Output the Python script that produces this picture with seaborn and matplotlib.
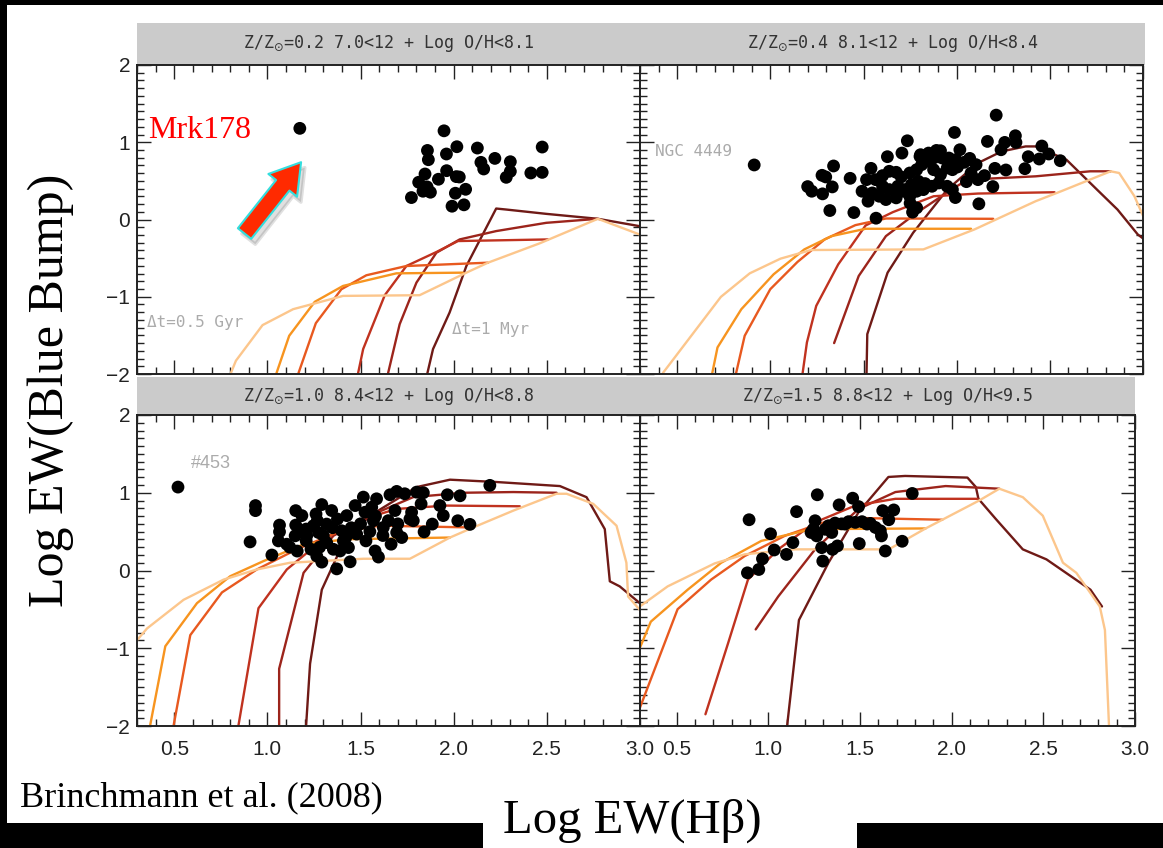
import matplotlib
matplotlib.use("Agg")
import matplotlib.pyplot as plt
from matplotlib.patches import Rectangle, FancyArrowPatch
from matplotlib.ticker import MultipleLocator, FormatStrFormatter
import seaborn as sns

# ---------------------------------------------------------------- data
TITLES = [
    r"Z/Z$_{\odot}$=0.2 7.0<12 + Log O/H<8.1",
    r"Z/Z$_{\odot}$=0.4 8.1<12 + Log O/H<8.4",
    r"Z/Z$_{\odot}$=1.0 8.4<12 + Log O/H<8.8",
    r"Z/Z$_{\odot}$=1.5 8.8<12 + Log O/H<9.5",
]

# galaxies, Z/Zsun = 0.2 (first point: Mrk178)
z02_x = [1.174, 1.948, 1.859, 1.864, 1.961, 2.017, 2.127, 2.146, 2.161, 2.221, 2.304,
         2.304, 2.282, 2.414, 2.475, 2.475, 1.846, 1.812, 1.857, 1.835, 1.875, 1.773,
         1.918, 1.962, 2.014, 2.030, 2.064, 2.009, 1.991, 2.055]
z02_y = [1.180, 1.148, 0.894, 0.774, 0.848, 0.942, 0.925, 0.740, 0.654, 0.791, 0.748,
         0.623, 0.546, 0.602, 0.610, 0.938, 0.589, 0.482, 0.422, 0.366, 0.353, 0.284,
         0.521, 0.632, 0.555, 0.550, 0.391, 0.340, 0.172, 0.190]

# galaxies, Z/Zsun = 0.4 (first point: NGC 4449)
z04_x = [0.913, 2.212, 1.988, 1.735, 2.165, 2.258, 2.315, 2.318, 2.457, 2.384, 2.443,
         2.494, 2.556, 2.366, 2.264, 2.205, 2.149, 2.194, 2.119, 1.993, 1.913, 1.891,
         2.017, 1.706, 1.628, 1.428, 1.339, 1.277, 1.297, 1.200, 1.222, 1.332, 1.280,
         1.319, 1.448, 1.567, 1.492, 1.524, 1.750, 1.785, 1.763, 2.052, 2.070, 1.806,
         2.238, 1.540, 1.516, 1.565, 1.602, 1.638, 1.675, 1.702, 1.748, 1.785, 1.812,
         1.840, 1.876, 1.913, 1.949, 1.977, 2.004, 2.040, 2.068, 2.104, 1.602, 1.638,
         1.684, 1.721, 1.757, 1.794, 1.830, 1.867, 1.904, 1.949, 1.977, 1.547, 1.584,
         1.620, 1.675, 1.712, 1.748, 1.785, 1.821, 1.803, 1.849, 1.876, 1.922, 1.958,
         1.995, 2.077, 2.114]
z04_y = [0.706, 1.351, 1.127, 1.019, 1.011, 0.998, 1.084, 0.998, 0.951, 0.813, 0.783,
         0.848, 0.761, 0.658, 0.641, 0.662, 0.568, 0.426, 0.203, 0.284, 0.890, 0.894,
         0.903, 0.860, 0.813, 0.533, 0.693, 0.572, 0.551, 0.426, 0.366, 0.422, 0.332,
         0.116, 0.090, 0.017, 0.366, 0.237, 0.211, 0.151, 0.095, 0.490, 0.791, 0.839,
         0.903, 0.662, 0.516, 0.516, 0.568, 0.624, 0.611, 0.551, 0.602, 0.645, 0.710,
         0.753, 0.645, 0.581, 0.667, 0.645, 0.680, 0.740, 0.774, 0.710, 0.430, 0.387,
         0.430, 0.387, 0.452, 0.495, 0.465, 0.430, 0.473, 0.430, 0.387, 0.344, 0.301,
         0.258, 0.280, 0.366, 0.301, 0.366, 0.387, 0.817, 0.860, 0.796, 0.796, 0.796,
         0.774, 0.602, 0.516]

# galaxies, Z/Zsun = 1.0 (first point: #453)
z10_x = [0.520, 0.936, 0.936, 0.907, 1.024, 2.194, 2.087, 2.034, 1.966, 1.944, 1.926,
         1.885, 1.841, 1.825, 1.837, 1.801, 1.737, 1.694, 1.658, 1.515, 1.471, 1.372,
         1.444, 1.292, 1.292, 1.152, 1.185, 1.596, 1.578, 1.664, 1.721, 1.783, 1.065,
         1.065, 1.059, 1.104, 1.152, 1.149, 1.175, 1.208, 1.208, 1.234, 1.261, 1.268,
         1.274, 1.318, 1.318, 1.354, 1.376, 1.399, 1.426, 1.408, 1.435, 1.479, 1.524,
         1.529, 1.560, 1.569, 1.622, 1.649, 1.685, 1.694, 1.765, 1.774, 2.022, 1.345,
         1.247, 1.586, 1.211, 1.390, 1.265, 1.120, 1.300, 1.450, 1.500, 1.350, 1.420,
         1.550, 1.620, 1.700, 1.580, 1.280, 1.160]
z10_y = [1.073, 0.835, 0.770, 0.368, 0.199, 1.095, 0.593, 0.961, 0.974, 0.706, 0.835,
         0.597, 0.497, 0.857, 1.000, 1.008, 0.987, 1.017, 0.974, 0.944, 0.835, 0.021,
         0.112, 0.108, 0.848, 0.770, 0.706, 0.173, 0.251, 0.338, 0.424, 0.640, 0.584,
         0.498, 0.381, 0.338, 0.584, 0.446, 0.511, 0.533, 0.381, 0.273, 0.727, 0.641,
         0.489, 0.597, 0.359, 0.273, 0.662, 0.511, 0.706, 0.381, 0.295, 0.468, 0.749,
         0.381, 0.814, 0.641, 0.554, 0.641, 0.771, 0.489, 0.662, 0.749, 0.640, 0.771,
         0.576, 0.922, 0.446, 0.251, 0.186, 0.300, 0.450, 0.550, 0.600, 0.550, 0.420,
         0.500, 0.450, 0.600, 0.700, 0.300, 0.250]

# galaxies, Z/Zsun = 1.5
z15_x = [0.895, 0.886, 0.948, 0.968, 1.012, 1.032, 1.099, 1.134, 1.154, 1.267, 1.255,
         1.233, 1.264, 1.246, 1.291, 1.297, 1.350, 1.377, 1.328, 1.364, 1.386, 1.419,
         1.460, 1.474, 1.492, 1.496, 1.511, 1.538, 1.584, 1.611, 1.617, 1.624, 1.638,
         1.657, 1.684, 1.730, 1.785, 1.346, 1.438, 1.556, 1.310, 1.400]
z15_y = [0.653, -0.030, 0.013, 0.151, 0.472, 0.264, 0.207, 0.359, 0.757, 0.974, 0.640,
         0.489, 0.445, 0.532, 0.294, 0.121, 0.272, 0.316, 0.575, 0.610, 0.844, 0.597,
         0.930, 0.619, 0.822, 0.346, 0.628, 0.597, 0.554, 0.511, 0.445, 0.770, 0.251,
         0.653, 0.779, 0.376, 0.991, 0.489, 0.628, 0.606, 0.530, 0.600]

# model tracks (burst duration from 1 Myr to 0.5 Gyr), one (x, y) pair each
TRACK_COLORS = ["#6f1a16", "#9c241b", "#c0321f", "#e8591f", "#f7941f", "#fcc68c"]

z02_tracks = [
    ([1.859, 1.889, 1.978, 2.068, 2.228, 2.282, 2.497, 2.774, 2.997],
     [-1.987, -1.677, -1.204, -0.602, 0.142, 0.129, 0.073, 0.009, -0.086]),
    ([1.648, 1.710, 1.800, 1.907, 2.032, 2.228, 2.497, 2.774],
     [-1.987, -1.355, -0.817, -0.430, -0.258, -0.150, -0.043, 0.009]),
    ([1.487, 1.514, 1.630, 1.746, 1.907, 2.023, 2.506],
     [-1.987, -1.677, -0.980, -0.602, -0.421, -0.279, -0.258]),
    ([1.167, 1.260, 1.397, 1.531, 1.746, 2.184],
     [-1.987, -1.342, -0.903, -0.722, -0.602, -0.559]),
    ([1.049, 1.117, 1.254, 1.406, 1.692, 2.050],
     [-1.987, -1.505, -1.066, -0.860, -0.697, -0.688]),
    ([0.804, 0.831, 0.974, 1.138, 1.406, 1.817, 2.068, 2.184, 2.461, 2.774, 2.997],
     [-1.987, -1.828, -1.367, -1.161, -0.989, -0.980, -0.688, -0.559, -0.309, 0.009, -0.193]),
]

z04_tracks = [
    ([1.516, 1.520, 1.629, 1.766, 1.949, 2.114, 2.242, 2.370, 2.424, 2.589, 2.753, 2.863, 2.972, 3.055],
     [-1.987, -1.484, -0.688, -0.172, 0.387, 0.731, 0.882, 0.946, 0.946, 0.774, 0.387, 0.129, -0.194, -0.344]),
    ([1.342, 1.474, 1.620, 1.785, 1.986, 2.059, 2.424, 2.717, 2.826],
     [-1.600, -0.731, -0.215, 0.086, 0.409, 0.516, 0.559, 0.624, 0.624]),
    ([1.173, 1.196, 1.246, 1.364, 1.511, 1.657, 1.876, 2.114, 2.525],
     [-1.987, -1.591, -1.118, -0.581, -0.077, 0.095, 0.301, 0.336, 0.353]),
    ([0.816, 0.862, 0.999, 1.145, 1.291, 1.456, 1.620, 2.196],
     [-1.987, -1.505, -0.903, -0.550, -0.258, -0.073, 0.013, 0.009]),
    ([0.688, 0.716, 0.844, 1.017, 1.182, 1.328, 1.511, 2.077],
     [-1.987, -1.656, -1.161, -0.710, -0.387, -0.215, -0.120, -0.120]),
    ([0.423, 0.734, 0.889, 1.054, 1.218, 1.821, 2.095, 2.424, 2.561, 2.826, 2.872, 2.954, 3.009],
     [-1.987, -1.002, -0.697, -0.507, -0.395, -0.387, -0.129, 0.237, 0.366, 0.624, 0.602, 0.301, 0.000]),
]

z10_tracks = [
    ([1.208, 1.229, 1.292, 1.408, 1.551, 1.801, 1.980, 2.230, 2.570, 2.713, 2.811, 2.838, 2.891, 2.999],
     [-1.987, -1.199, -0.247, 0.359, 0.706, 1.073, 1.168, 1.138, 1.086, 0.943, 0.532, -0.139, -0.204, -0.420]),
    ([1.063, 1.063, 1.194, 1.354, 1.551, 1.783, 2.052, 2.320, 2.552],
     [-1.987, -1.264, -0.030, 0.446, 0.706, 0.944, 1.000, 1.009, 1.000]),
    ([0.845, 0.952, 1.104, 1.301, 1.515, 1.694, 1.962, 2.355],
     [-1.987, -0.485, 0.013, 0.402, 0.662, 0.792, 0.835, 0.826]),
    ([0.497, 0.586, 0.756, 0.943, 1.158, 1.372, 1.605, 2.087],
     [-1.987, -0.831, -0.282, 0.013, 0.272, 0.489, 0.576, 0.554]),
    ([0.371, 0.452, 0.622, 0.800, 0.979, 1.194, 1.426, 1.980],
     [-1.987, -0.974, -0.420, -0.074, 0.121, 0.337, 0.402, 0.424]),
    ([0.300, 0.354, 0.550, 0.765, 0.943, 1.122, 1.515, 1.765, 1.980, 2.105, 2.320, 2.552,
      2.606, 2.749, 2.874, 2.927, 2.936, 2.999],
     [-0.896, -0.745, -0.377, -0.117, 0.013, 0.100, 0.151, 0.151, 0.424, 0.554, 0.770, 0.987,
      0.987, 0.857, 0.576, 0.100, -0.334, -0.507]),
]

z15_tracks = [
    ([1.103, 1.167, 1.328, 1.492, 1.655, 1.746, 2.086, 2.132, 2.146, 2.241, 2.388, 2.517, 2.757, 2.820],
     [-1.987, -0.637, 0.100, 0.749, 1.203, 1.216, 1.195, 1.073, 0.922, 0.662, 0.272, 0.143, -0.247, -0.463]),
    ([0.931, 1.054, 1.255, 1.492, 1.693, 1.967, 2.260],
     [-0.758, -0.334, 0.272, 0.792, 1.009, 1.086, 1.052]),
    ([0.657, 0.780, 0.889, 1.054, 1.255, 1.474, 1.693, 2.141],
     [-1.849, -0.939, -0.117, 0.272, 0.619, 0.835, 0.922, 0.922]),
    ([0.286, 0.505, 0.688, 0.871, 1.090, 1.328, 1.511, 1.949],
     [-1.849, -0.498, -0.117, 0.186, 0.446, 0.640, 0.675, 0.653]),
    ([0.286, 0.359, 0.560, 0.743, 0.962, 1.237, 1.858],
     [-1.070, -0.658, -0.247, 0.100, 0.381, 0.532, 0.541]),
    ([0.286, 0.451, 0.707, 0.871, 1.145, 1.657, 1.858, 2.150, 2.260, 2.388, 2.497, 2.607,
      2.680, 2.808, 2.836, 2.858],
     [-0.485, -0.204, 0.091, 0.208, 0.272, 0.272, 0.541, 0.900, 1.052, 0.943, 0.705, 0.100,
      -0.030, -0.463, -0.766, -1.987]),
]

X_TICKS = [0.5, 1.0, 1.5, 2.0, 2.5, 3.0]
Y_TICKS = [-2, -1, 0, 1, 2]

# ---------------------------------------------------------------- layout
W, H = 1163, 848
sns.set_theme(style="ticks")
plt.rcParams["font.family"] = ["Liberation Sans", "DejaVu Sans"]
plt.rcParams["mathtext.fontset"] = "dejavusans"

fig = plt.figure(figsize=(W / 100, H / 100), dpi=100, facecolor="white")


def fbox(l, t, r, b):
    return [l / W, 1 - b / H, (r - l) / W, (b - t) / H]


def fx(px):
    return px / W


def fy(py):
    return 1 - py / H


panels = [
    # axes box, title strip box, data
    ((137, 65, 640, 374), (137, 23, 640, 65), z02_x, z02_y, z02_tracks, False, True),
    ((640, 65, 1143, 374), (640, 23, 1145, 65), z04_x, z04_y, z04_tracks, False, False),
    ((137, 415, 640, 726), (137, 377, 640, 415), z10_x, z10_y, z10_tracks, True, True),
    ((640, 415, 1135, 726), (640, 377, 1135, 415), z15_x, z15_y, z15_tracks, True, False),
]

axes = []
for i, (box, strip, gx, gy, tracks, xlab, ylab) in enumerate(panels):
    # grey title strip
    l, t, r, b = strip
    fig.add_artist(Rectangle((fx(l), fy(b)), (r - l) / W, (b - t) / H,
                             transform=fig.transFigure, facecolor="#cbcbcb",
                             edgecolor="none", zorder=0))
    fig.text(fx((l + r) / 2), fy((t + b) / 2), TITLES[i], ha="center", va="center",
             family="DejaVu Sans Mono", fontsize=12, color="#333333")

    ax = fig.add_axes(fbox(*box))
    ax.set_facecolor("white")
    for (tx, ty), c in zip(tracks, TRACK_COLORS):
        sns.lineplot(x=tx, y=ty, sort=False, estimator=None, color=c, lw=1.7,
                     ax=ax, legend=False, zorder=2)
    sns.scatterplot(x=gx, y=gy, s=85, color="black", edgecolor="none", ax=ax,
                    legend=False, zorder=3)

    ax.set_xlim(0.3, 3.0)
    ax.set_ylim(-2.0, 2.0)
    ax.set_xticks(X_TICKS)
    ax.set_yticks(Y_TICKS)
    ax.xaxis.set_minor_locator(MultipleLocator(0.1))
    ax.yaxis.set_minor_locator(MultipleLocator(0.1))
    ax.xaxis.set_major_formatter(FormatStrFormatter("%.1f"))
    ax.tick_params(which="both", direction="in", top=True, right=True,
                   bottom=True, left=True, color="#222222", width=1.0)
    ax.tick_params(which="major", length=10)
    ax.tick_params(which="minor", length=5)
    ax.tick_params(axis="x", which="major", labelsize=15, pad=10,
                   labelbottom=xlab, labelcolor="#222222")
    ax.tick_params(axis="y", which="major", labelsize=15, pad=5,
                   labelleft=ylab, labelcolor="#222222")
    for sp in ax.spines.values():
        sp.set_linewidth(1.4)
        sp.set_color("#222222")
    ax.set_xlabel("")
    ax.set_ylabel("")
    axes.append(ax)

ax1, ax2, ax3, ax4 = axes

# panel annotations
mono = dict(family="DejaVu Sans Mono", color="#ababab", fontsize=11.5)
ax1.text(0.355, -1.33, "\u0394t=0.5 Gyr", ha="left", va="center", **mono)
ax1.text(1.99, -1.43, "\u0394t=1 Myr", ha="left", va="center", **mono)
ax2.text(0.38, 0.88, "NGC 4449", ha="left", va="center", **mono)
ax3.text(0.59, 1.37, "#453", ha="left", va="center", color="#ababab",
         fontsize=13)

ax1.text(0.36, 1.15, "Mrk178", ha="left", va="center", color="red",
         family="Liberation Serif", fontsize=23)

# arrow pointing at Mrk178 (with a soft drop shadow)
style = "simple,head_length=1.25,head_width=1.55,tail_width=0.72"
shadow = FancyArrowPatch((0.89, -0.28), (1.21, 0.70), arrowstyle=style,
                         mutation_scale=17, facecolor="#000000", edgecolor="#000000",
                         lw=2.5, alpha=0.12, zorder=4)
ax1.add_patch(shadow)
arrow = FancyArrowPatch((0.868, -0.21), (1.19, 0.77), arrowstyle=style,
                        mutation_scale=17, facecolor="#ff2a00", edgecolor="#33dede",
                        lw=1.5, zorder=5)
ax1.add_patch(arrow)

# axis titles and reference
serif = ["Liberation Serif", "DejaVu Serif"]
fig.text(fx(51), fy(390), "Log EW(Blue Bump)", rotation=90, ha="center",
         va="center", family=serif, fontsize=36, color="black")
fig.text(fx(20), fy(798), "Brinchmann et al. (2008)", ha="left", va="center",
         family=serif, fontsize=26, color="black")

# black slide frame
frame = dict(transform=fig.transFigure, facecolor="black", edgecolor="none", zorder=10)
fig.add_artist(Rectangle((0, fy(5)), 1, 5 / H, **frame))
fig.add_artist(Rectangle((0, 0), 7 / W, 1, **frame))
fig.add_artist(Rectangle((0, 0), fx(483), 25 / H, **frame))
fig.add_artist(Rectangle((fx(857), 0), 1 - fx(857), 25 / H, **frame))

fig.text(fx(632), fy(821), "Log EW(H\u03b2)", ha="center", va="center",
         family=serif, fontsize=35, color="black", zorder=11)

fig.savefig("out.png", dpi=100, facecolor="white")
